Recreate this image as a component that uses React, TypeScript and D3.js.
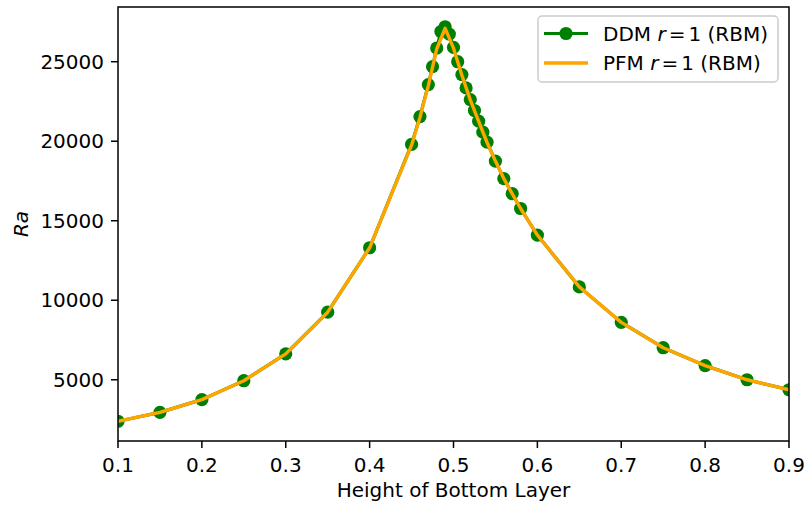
import React from "react";
import * as d3 from "d3";

const ddmX = [0.1, 0.15, 0.2, 0.25, 0.3, 0.35, 0.4, 0.45, 0.46, 0.47, 0.475, 0.48, 0.485, 0.49, 0.495, 0.5, 0.505, 0.51, 0.515, 0.52, 0.525, 0.53, 0.535, 0.54, 0.55, 0.56, 0.57, 0.58, 0.6, 0.65, 0.7, 0.75, 0.8, 0.85, 0.9];
const ddmRa = [2390, 2950, 3750, 4940, 6630, 9250, 13300, 19800, 21550, 23560, 24690, 25860, 26900, 27200, 26740, 25900, 25000, 24190, 23350, 22620, 21930, 21260, 20570, 19940, 18750, 17650, 16700, 15770, 14100, 10840, 8610, 7015, 5890, 5000, 4373];

const pfmX = [0.1, 0.15, 0.2, 0.25, 0.3, 0.35, 0.4, 0.45, 0.46, 0.47, 0.48, 0.49, 0.5, 0.51, 0.52, 0.53, 0.54, 0.55, 0.56, 0.57, 0.58, 0.6, 0.65, 0.7, 0.75, 0.8, 0.85, 0.9];
const pfmRa = [2390, 2950, 3750, 4940, 6630, 9250, 13300, 19750, 21500, 23500, 25800, 27100, 25850, 24150, 22600, 21250, 19920, 18750, 17650, 16700, 15770, 14100, 10840, 8610, 7015, 5890, 5000, 4373];

const xTicks = [0.1, 0.2, 0.3, 0.4, 0.5, 0.6, 0.7, 0.8, 0.9];
const yTicks = [5000, 10000, 15000, 20000, 25000];

const W = 805, H = 505;
const L = 118, R = 789, T = 7, B = 441;
const FONT = "DejaVu Sans";
const FS = 20;

export default function App() {
  const yMin = d3.min(ddmRa)!, yMax = d3.max(ddmRa)!;
  const pad = (yMax - yMin) * 0.05;
  const x = d3.scaleLinear().domain([0.1, 0.9]).range([L, R]);
  const y = d3.scaleLinear().domain([yMin - pad, yMax + pad]).range([B, T]);
  const ddmPts: [number, number][] = ddmX.map((v, i) => [v, ddmRa[i]]);
  const pfmPts: [number, number][] = pfmX.map((v, i) => [v, pfmRa[i]]);
  const line = d3.line<[number, number]>().x(d => x(d[0])).y(d => y(d[1]));

  return (
    <svg width={W} height={H} style={{ position: "absolute", left: 0, top: 0, background: "#fff" }} fontFamily={FONT}>
      <defs>
        <clipPath id="clip"><rect x={L} y={T} width={R - L} height={B - T} /></clipPath>
      </defs>
      <g clipPath="url(#clip)">
        <path d={line(ddmPts)!} fill="none" stroke="green" strokeWidth={3.2} strokeLinejoin="round" />
        {ddmPts.map((p, i) => (
          <circle key={i} cx={x(p[0])} cy={y(p[1])} r={6.6} fill="green" />
        ))}
        <path d={line(pfmPts)!} fill="none" stroke="orange" strokeWidth={3.4} strokeLinejoin="round" />
      </g>
      <rect x={L} y={T} width={R - L} height={B - T} fill="none" stroke="#000" strokeWidth={1.5} />
      {xTicks.map(t => (
        <g key={t}>
          <line x1={x(t)} x2={x(t)} y1={B} y2={B + 7} stroke="#000" strokeWidth={1.5} />
          <text x={x(t)} y={B + 31} fontSize={FS} textAnchor="middle" fill="#000">{t.toFixed(1)}</text>
        </g>
      ))}
      {yTicks.map(t => (
        <g key={t}>
          <line x1={L - 7} x2={L} y1={y(t)} y2={y(t)} stroke="#000" strokeWidth={1.5} />
          <text x={L - 14} y={y(t)} dy="0.36em" fontSize={FS} textAnchor="end" fill="#000">{t}</text>
        </g>
      ))}
      <text x={(L + R) / 2} y={497} fontSize={FS} textAnchor="middle" fill="#000">Height of Bottom Layer</text>
      <text transform={`translate(28,${(T + B) / 2}) rotate(-90)`} fontSize={FS} textAnchor="middle" fontStyle="italic" fill="#000">Ra</text>
      <g>
        <rect x={538} y={16} width={240} height={66} rx={4} fill="#fff" fillOpacity={0.8} stroke="#ccc" strokeWidth={1.5} />
        <line x1={544} x2={588} y1={33.5} y2={33.5} stroke="green" strokeWidth={3.2} />
        <circle cx={566} cy={33.5} r={6.6} fill="green" />
        <line x1={544} x2={588} y1={63} y2={63} stroke="orange" strokeWidth={3.4} />
        <text x={603} y={40.5} fontSize={FS} fill="#000">DDM <tspan fontStyle="italic">r</tspan><tspan dx={3}>=</tspan><tspan dx={3}>1 (RBM)</tspan></text>
        <text x={603} y={70} fontSize={FS} fill="#000">PFM <tspan fontStyle="italic">r</tspan><tspan dx={3}>=</tspan><tspan dx={3}>1 (RBM)</tspan></text>
      </g>
    </svg>
  );
}
